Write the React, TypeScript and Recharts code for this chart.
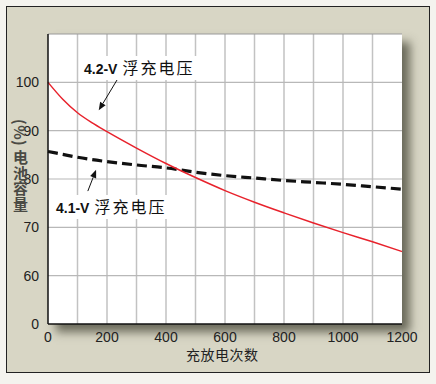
import React from "react";
import { LineChart, Line, XAxis, YAxis, ReferenceLine } from "recharts";

// 充放电次数
const cycles = [0, 50, 100, 150, 200, 300, 400, 500, 600, 700, 800, 900, 1000, 1100, 1200];
// 4.2-V 浮充电压 (%)
const float42 = [100, 96.5, 93.7, 91.6, 89.8, 86.4, 83.2, 80.3, 77.6, 75.2, 73.0, 70.9, 68.9, 67.0, 65.0];
// 4.1-V 浮充电压 (%)
const float41 = [85.7, 85.1, 84.5, 84.0, 83.6, 82.9, 82.3, 81.4, 80.7, 80.2, 79.7, 79.3, 78.9, 78.4, 77.9];

const xTicks = [0, 200, 400, 600, 800, 1000, 1200];
const yTicks = [50, 60, 70, 80, 90, 100];
const xGrid = [100, 200, 300, 400, 500, 600, 700, 800, 900, 1000, 1100];
const yGrid = [60, 70, 80, 90, 100];

const data = cycles.map((c, i) => ({ cycles: c, v42: float42[i], v41: float41[i] }));

const NARROW = '"Liberation Sans Narrow", "Arial Narrow", "Liberation Sans", sans-serif';
const CJK = '"Noto Sans CJK SC", sans-serif';

// 带箭头的标注线
function Arrow(props: any) {
    const { x1, y1, x2, y2 } = props;
    const ang = Math.atan2(y2 - y1, x2 - x1);
    const len = 8, half = 3.2;
    const bx = x2 - len * Math.cos(ang), by = y2 - len * Math.sin(ang);
    const px = -Math.sin(ang) * half, py = Math.cos(ang) * half;
    return (
        <g>
            <line x1={x1} y1={y1} x2={bx} y2={by} stroke="#111" strokeWidth={1} />
            <polygon points={`${x2},${y2} ${bx + px},${by + py} ${bx - px},${by - py}`} fill="#111" />
        </g>
    );
}

function Note({ x, y, v }: { x: number; y: number; v: string }) {
    return (
        <div style={{
            position: "absolute", left: x, top: y, background: "#fff", padding: "1px 4px",
            whiteSpace: "nowrap", lineHeight: "20px", color: "#111",
        }}>
            <span style={{ fontFamily: NARROW, fontSize: 14, fontWeight: 700 }}>{v}</span>
            <span style={{ fontFamily: CJK, fontSize: 16, marginLeft: 5, letterSpacing: 2 }}>浮充电压</span>
        </div>
    );
}

export default function App() {
    return (
        <div style={{ position: "absolute", left: 0, top: 0, width: 436, height: 384, background: "#f4f3ee" }}>
            <div style={{
                position: "absolute", left: 6, top: 6, width: 422, height: 365,
                background: "#d8d6c5", border: "1.5px solid #222",
            }} />
            {/* plot background + shadow */}
            <div style={{
                position: "absolute", left: 48, top: 34, width: 354, height: 290, background: "#fff",
                boxShadow: "8px 8px 9px rgba(60,60,45,0.7)",
            }} />
            <div style={{ position: "absolute", left: 0, top: 0 }}>
                <LineChart width={436} height={384} data={data} margin={{ top: 34, right: 34, bottom: 30, left: 8 }}>
                    <XAxis
                        dataKey="cycles" type="number" domain={[0, 1200]} ticks={xTicks}
                        tickLine={false} axisLine={{ stroke: "#111", strokeWidth: 1.5 }}
                        tick={{ fill: "#222", fontSize: 14, fontFamily: NARROW }} tickMargin={2} height={30}
                        interval={0}
                    />
                    <YAxis
                        type="number" domain={[50, 110]} ticks={yTicks} width={40}
                        tickFormatter={(v: number) => (v === 50 ? "0" : String(v))}
                        tickLine={false} axisLine={{ stroke: "#111", strokeWidth: 1.5 }}
                        tick={{ fill: "#222", fontSize: 14, fontFamily: NARROW }} tickMargin={3}
                        interval={0}
                    />
                    {xGrid.map((v) => (
                        <ReferenceLine key={`x${v}`} x={v} stroke="#c2c2c2" strokeWidth={1.5} />
                    ))}
                    {yGrid.map((v) => (
                        <ReferenceLine key={`y${v}`} y={v} stroke="#b8b8b8" strokeWidth={1.2} />
                    ))}
                    <ReferenceLine y={110} stroke="#9a9a9a" strokeWidth={1} />
                    <Line
                        type="monotone" dataKey="v41" stroke="#111" strokeWidth={3.2}
                        strokeDasharray="10 5" dot={false} isAnimationActive={false}
                    />
                    <Line
                        type="monotone" dataKey="v42" stroke="#e8222c" strokeWidth={1.5}
                        dot={false} isAnimationActive={false}
                    />
                    <ReferenceLine
                        segment={[{ x: 242, y: 101.3 }, { x: 172, y: 94.2 }]}
                        shape={(p: any) => <Arrow {...p} />}
                    />
                    <ReferenceLine
                        segment={[{ x: 135, y: 77.5 }, { x: 163, y: 81.9 }]}
                        shape={(p: any) => <Arrow {...p} />}
                    />
                </LineChart>
            </div>
            <Note x={80} y={56} v="4.2-V" />
            <Note x={52} y={195} v="4.1-V" />
            {/* Y 轴标题 */}
            <div style={{
                position: "absolute", left: 12, top: 119, writingMode: "vertical-rl", textOrientation: "mixed",
                fontFamily: CJK, fontWeight: 700, fontSize: 15, lineHeight: "16px", color: "#4a4a44",
                letterSpacing: 0.5,
            }}>
                (%) 电池容量
            </div>
            <div style={{
                position: "absolute", left: 186, top: 344, fontFamily: CJK, fontSize: 14, color: "#222",
                letterSpacing: 0.5, whiteSpace: "nowrap",
            }}>
                充放电次数
            </div>
        </div>
    );
}
